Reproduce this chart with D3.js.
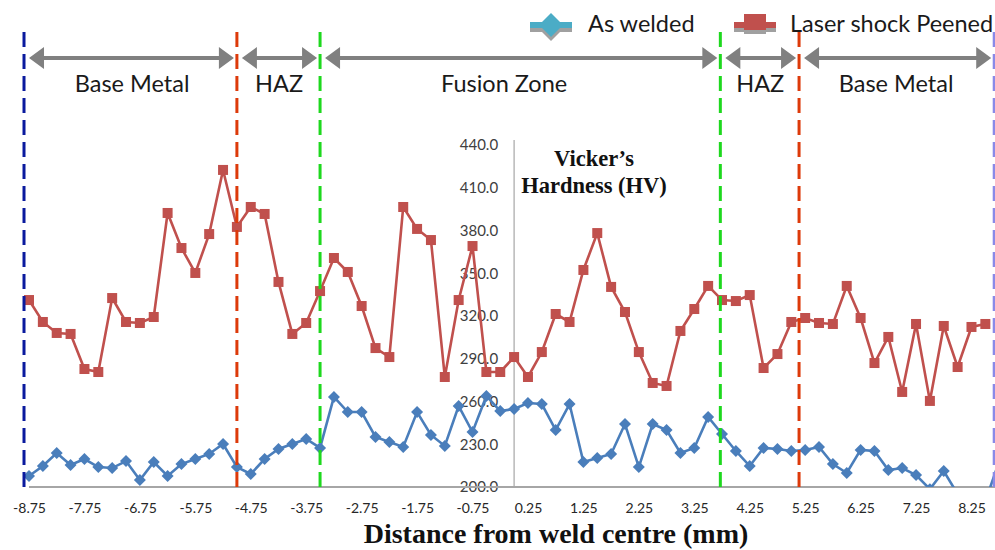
<!DOCTYPE html>
<html>
<head>
<meta charset="utf-8">
<script src="https://cdn.jsdelivr.net/npm/d3@7/dist/d3.min.js"></script>
<style>
  body { margin: 0; background: #fff; }
  svg { display: block; }
</style>
</head>
<body>
<svg id="chart" width="995" height="550"></svg>
<script>
const distances = [
  -8.75, -8.5, -8.25, -8, -7.75, -7.5, -7.25, -7, -6.75, -6.5, -6.25, -6,
  -5.75, -5.5, -5.25, -5, -4.75, -4.5, -4.25, -4, -3.75, -3.5, -3.25, -3,
  -2.75, -2.5, -2.25, -2, -1.75, -1.5, -1.25, -1, -0.75, -0.5, -0.25, 0,
  0.25, 0.5, 0.75, 1, 1.25, 1.5, 1.75, 2, 2.25, 2.5, 2.75, 3,
  3.25, 3.5, 3.75, 4, 4.25, 4.5, 4.75, 5, 5.25, 5.5, 5.75, 6,
  6.25, 6.5, 6.75, 7, 7.25, 7.5, 7.75, 8, 8.25, 8.5, 8.75
];

const asWelded = [
  207.7, 214.7, 223.9, 215.4, 219.6, 214.0, 213.3, 218.2, 204.9, 217.5, 207.7, 216.1,
  219.6, 223.2, 230.2, 214.0, 209.1, 219.6, 226.7, 230.2, 233.7, 227.4, 263.2, 252.6,
  252.6, 235.1, 231.6, 228.1, 252.6, 236.5, 228.8, 256.8, 238.6, 263.9, 253.3, 254.7,
  258.9, 258.2, 240.0, 258.2, 217.5, 220.4, 223.2, 244.2, 214.0, 244.2, 240.0, 223.9,
  227.4, 249.1, 237.2, 225.3, 214.7, 227.4, 226.7, 225.3, 226.0, 228.1, 216.1, 209.8,
  226.0, 225.3, 211.9, 213.3, 208.4, 198.5, 211.2, 195.0, 190.0, 190.0, 218.0
];

const peened = [
  331.2, 315.8, 308.1, 307.4, 282.8, 280.7, 332.6, 315.8, 315.1, 319.3, 392.3, 367.7,
  350.2, 377.5, 422.5, 382.5, 396.5, 391.6, 343.9, 307.4, 315.1, 337.5, 360.7, 350.9,
  327.0, 297.5, 291.2, 396.5, 381.1, 373.3, 277.2, 331.2, 369.1, 280.7, 280.7, 291.2,
  277.2, 294.7, 321.4, 315.8, 352.3, 378.2, 340.4, 322.8, 294.7, 273.0, 270.9, 309.5,
  324.9, 341.1, 331.2, 330.5, 334.7, 283.5, 293.3, 315.8, 318.6, 315.1, 314.4, 341.1,
  318.6, 287.0, 305.3, 266.7, 314.4, 260.4, 313.0, 284.2, 312.3, 314.4
];

const xTickValues = [-8.75, -7.75, -6.75, -5.75, -4.75, -3.75, -2.75, -1.75, -0.75,
  0.25, 1.25, 2.25, 3.25, 4.25, 5.25, 6.25, 7.25, 8.25];
const yTickValues = [200, 230, 260, 290, 320, 350, 380, 410, 440];

const zoneBounds = [-8.84, -5.0, -3.5, 3.72, 5.14, 8.66];
const zoneColors = ['#0a1a9e', '#dd3a0a', '#1ed81e', '#1ed81e', '#dd3a0a', '#8a8ae8'];
const zoneNames = ['Base Metal', 'HAZ', 'Fusion Zone', 'HAZ', 'Base Metal'];
const zoneLabelAt = [-6.89, -4.24, -0.18, 4.44, 6.89];

const svg = d3.select('#chart');

const x = d3.scaleLinear().domain([-8.75, 8.75]).range([29, 999.2]);
const y = d3.scaleLinear().domain([200, 440]).range([487, 145]);

const uiFont = 'Lato, "Open Sans", sans-serif';
const serifFont = '"Liberation Serif", "DejaVu Serif", serif';

svg.append('rect').attr('width', 995).attr('height', 550).attr('fill', '#fff');

svg.append('defs')
  .append('clipPath')
  .attr('id', 'plot-clip')
  .append('rect')
  .attr('x', 0)
  .attr('y', 0)
  .attr('width', 995)
  .attr('height', y(200));

// axes
const yAxis = svg.append('g')
  .attr('transform', `translate(${x(0)},0)`)
  .call(d3.axisLeft(y).tickValues(yTickValues).tickSize(0).tickPadding(16).tickFormat(d3.format('.1f')));

yAxis.select('.domain')
  .attr('d', `M0,${y(200)}V140`)
  .attr('stroke', '#a6a6a6')
  .attr('stroke-width', 1.2);

yAxis.selectAll('text')
  .attr('font-family', uiFont)
  .attr('font-size', 15)
  .attr('fill', '#404040');

const xAxis = svg.append('g')
  .attr('transform', `translate(0,${y(200)})`)
  .call(d3.axisBottom(x).tickValues(xTickValues).tickSize(0).tickPadding(16).tickFormat(d => d));

xAxis.select('.domain')
  .attr('d', `M${x(-8.75)},0H995`)
  .attr('stroke', '#a6a6a6')
  .attr('stroke-width', 2);

xAxis.selectAll('text')
  .attr('font-family', uiFont)
  .attr('font-size', 14)
  .attr('fill', '#262626');

// series
const plot = svg.append('g').attr('clip-path', 'url(#plot-clip)');

const line = d3.line()
  .x((d, i) => x(distances[i]))
  .y(d => y(d));

plot.append('path')
  .datum(asWelded)
  .attr('fill', 'none')
  .attr('stroke', '#4a7ebb')
  .attr('stroke-width', 2.6)
  .attr('d', line);

plot.append('path')
  .datum(peened)
  .attr('fill', 'none')
  .attr('stroke', '#c0504d')
  .attr('stroke-width', 2.6)
  .attr('d', line);

plot.selectAll('.diamond')
  .data(asWelded)
  .join('path')
  .attr('class', 'diamond')
  .attr('transform', (d, i) => `translate(${x(distances[i])},${y(d)})`)
  .attr('d', 'M0,-6L6,0L0,6L-6,0Z')
  .attr('fill', '#4a7ebb');

plot.selectAll('.square')
  .data(peened)
  .join('rect')
  .attr('class', 'square')
  .attr('x', (d, i) => x(distances[i]) - 5)
  .attr('y', d => y(d) - 5)
  .attr('width', 10)
  .attr('height', 10)
  .attr('fill', '#c0504d');

// zone boundaries
svg.selectAll('.bound')
  .data(zoneBounds)
  .join('line')
  .attr('class', 'bound')
  .attr('x1', d => x(d))
  .attr('x2', d => x(d))
  .attr('y1', 32)
  .attr('y2', y(200))
  .attr('stroke', (d, i) => zoneColors[i])
  .attr('stroke-width', 3)
  .attr('stroke-dasharray', '15,7');

// zone arrows
const arrowY = 58;
const head = 15;
const half = 11;
const arrows = svg.append('g').attr('fill', '#808080').attr('stroke', '#808080');

zoneNames.forEach((name, i) => {
  let x1 = x(zoneBounds[i]) + 5;
  let x2 = x(zoneBounds[i + 1]) - 3;

  arrows.append('line')
    .attr('x1', x1 + head - 2)
    .attr('x2', x2 - head + 2)
    .attr('y1', arrowY)
    .attr('y2', arrowY)
    .attr('stroke-width', 4);

  arrows.append('path')
    .attr('stroke', 'none')
    .attr('d', `M${x1},${arrowY}L${x1 + head},${arrowY - half}L${x1 + head},${arrowY + half}Z` +
      `M${x2},${arrowY}L${x2 - head},${arrowY - half}L${x2 - head},${arrowY + half}Z`);

  svg.append('text')
    .attr('x', x(zoneLabelAt[i]))
    .attr('y', 92)
    .attr('text-anchor', 'middle')
    .attr('font-family', uiFont)
    .attr('font-size', 23.5)
    .attr('fill', '#1a1a1a')
    .text(name);
});

// legend
const legend = svg.append('g');

legend.append('line')
  .attr('x1', 530).attr('x2', 572).attr('y1', 29).attr('y2', 29)
  .attr('stroke', '#a0a0a0').attr('stroke-width', 6);
legend.append('path')
  .attr('transform', 'translate(551,29)')
  .attr('d', 'M0,-12L12,0L0,12L-12,0Z')
  .attr('fill', '#a0a0a0');
legend.append('line')
  .attr('x1', 530).attr('x2', 572).attr('y1', 25).attr('y2', 25)
  .attr('stroke', '#4bacc6').attr('stroke-width', 6);
legend.append('path')
  .attr('transform', 'translate(551,25)')
  .attr('d', 'M0,-12L12,0L0,12L-12,0Z')
  .attr('fill', '#4bacc6');
legend.append('text')
  .attr('x', 588).attr('y', 32)
  .attr('font-family', uiFont).attr('font-size', 23.5).attr('fill', '#1a1a1a')
  .text('As welded');

legend.append('line')
  .attr('x1', 734).attr('x2', 776).attr('y1', 29).attr('y2', 29)
  .attr('stroke', '#a0a0a0').attr('stroke-width', 6);
legend.append('rect')
  .attr('x', 744).attr('y', 18).attr('width', 22).attr('height', 16)
  .attr('fill', '#a0a0a0');
legend.append('line')
  .attr('x1', 734).attr('x2', 776).attr('y1', 25).attr('y2', 25)
  .attr('stroke', '#c0504d').attr('stroke-width', 6);
legend.append('rect')
  .attr('x', 744).attr('y', 14).attr('width', 22).attr('height', 16)
  .attr('fill', '#c0504d');
legend.append('text')
  .attr('x', 790).attr('y', 32)
  .attr('font-family', uiFont).attr('font-size', 23.5).attr('fill', '#1a1a1a')
  .text('Laser shock Peened');

// titles
svg.append('text')
  .attr('x', 556).attr('y', 543)
  .attr('text-anchor', 'middle')
  .attr('font-family', serifFont).attr('font-weight', 'bold').attr('font-size', 28)
  .attr('fill', '#111')
  .text('Distance from weld centre (mm)');

const yTitle = svg.append('text')
  .attr('text-anchor', 'middle')
  .attr('font-family', serifFont).attr('font-weight', 'bold').attr('font-size', 22.5)
  .attr('fill', '#111');

yTitle.append('tspan').attr('x', 594).attr('y', 166).text('Vicker\u2019s');
yTitle.append('tspan').attr('x', 594).attr('y', 193).text('Hardness (HV)');
</script>
</body>
</html>
